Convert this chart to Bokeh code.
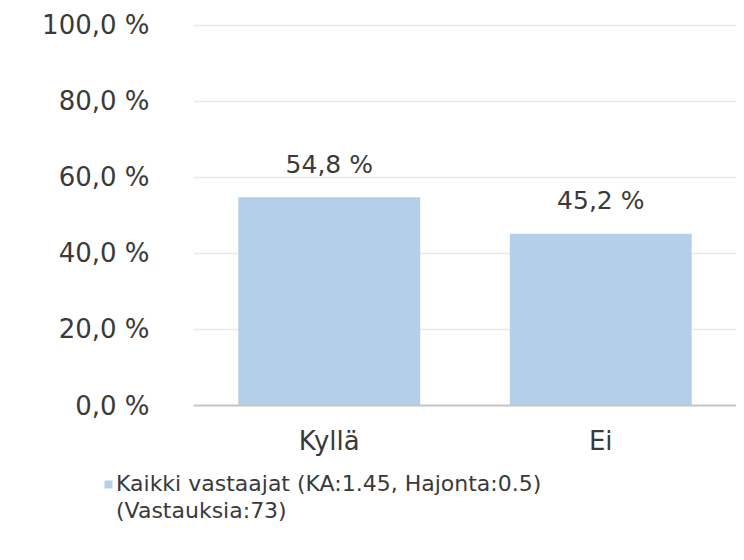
from bokeh.plotting import figure
from bokeh.models import Range1d, FixedTicker, Legend, LegendItem, ColumnDataSource
from bokeh.layouts import column
from bokeh.core.properties import value
from bokeh.embed import file_html
from bokeh.resources import INLINE

categories = ["Kyllä", "Ei"]
values = [54.8, 45.2]
value_labels = ["54,8 %", "45,2 %"]
tick_values = [0, 20, 40, 60, 80, 100]
tick_labels = ["0,0 %", "20,0 %", "40,0 %", "60,0 %", "80,0 %", "100,0 %"]
legend_line1 = "Kaikki vastaajat (KA:1.45, Hajonta:0.5)"
legend_line2 = "(Vastauksia:73)"

FONT = "DejaVu Sans"
TEXT = "#3a3a3a"
BAR = "#b4cfea"

src = ColumnDataSource(dict(cat=categories, val=values, lab=value_labels))

p = figure(x_range=categories, y_range=Range1d(0, 101),
           frame_width=543, frame_height=384,
           output_backend="svg", toolbar_location=None,
           min_border_left=193, min_border_right=0, min_border_top=21, min_border_bottom=60)
p.frame_align = False
p.outline_line_color = None
p.background_fill_color = "white"

r = p.vbar(x="cat", top="val", width=0.67, source=src, fill_color=BAR, line_color=None)
p.text(x="cat", y="val", text="lab", source=src, text_align="center", text_baseline="alphabetic",
       y_offset=-33, text_font=value(FONT), text_font_size="25px", text_color=TEXT)

p.yaxis.ticker = FixedTicker(ticks=tick_values)
p.yaxis.major_label_overrides = {t: l for t, l in zip(tick_values, tick_labels)}
p.yaxis.axis_line_color = None
p.yaxis.major_tick_line_color = None
p.yaxis.minor_tick_line_color = None
p.yaxis.major_label_standoff = 38
p.yaxis.major_label_text_font = FONT
p.yaxis.major_label_text_font_size = "26px"
p.yaxis.major_label_text_color = TEXT

p.xaxis.axis_line_color = "#c4c4c4"
p.xaxis.axis_line_width = 2
p.xaxis.major_tick_line_color = None
p.xaxis.minor_tick_line_color = None
p.xaxis.major_label_standoff = 14
p.xaxis.major_label_text_font = FONT
p.xaxis.major_label_text_font_size = "26px"
p.xaxis.major_label_text_color = TEXT

p.xgrid.grid_line_color = None
p.ygrid.grid_line_color = "#e8e8e8"
p.ygrid.grid_line_width = 1.5

# legend strip below the chart (its own small figure so the legend can sit left of the frame)
p2 = figure(width=736, height=79, x_range=Range1d(0, 1), y_range=Range1d(0, 1),
            output_backend="svg", toolbar_location=None, min_border=0)
p2.frame_align = False
p2.axis.visible = False
p2.grid.visible = False
p2.outline_line_color = None
swatch_src = ColumnDataSource(dict(x=[0.5], top=[0]))
swatch = p2.vbar(x="x", top="top", width=0.01, source=swatch_src, fill_color=BAR, line_color=None)
blank = p2.vbar(x="x", top="top", width=0.01, source=swatch_src, fill_alpha=0, line_color=None)

legend = Legend(items=[LegendItem(label=legend_line1, renderers=[swatch]),
                       LegendItem(label=legend_line2, renderers=[blank])],
                location=(103, 20), orientation="vertical",
                glyph_width=10, glyph_height=10, label_standoff=3,
                label_text_font=FONT, label_text_font_size="22px", label_text_color=TEXT,
                label_height=27,
                border_line_color=None, background_fill_alpha=0, padding=0, margin=0,
                spacing=0)
p2.add_layout(legend, "center")

open("out.html", "w").write(file_html(column(p, p2, spacing=0), INLINE))
